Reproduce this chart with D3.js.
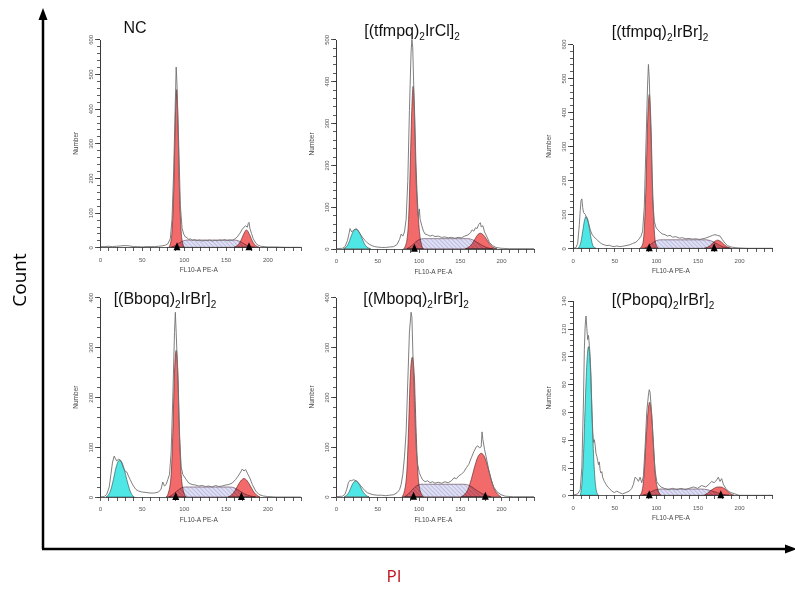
<!DOCTYPE html>
<html>
<head>
	<meta charset="UTF-8">
	<title>Cell cycle histograms</title>
	<script src="https://d3js.org/d3.v7.min.js"></script>
	<style>
		body { margin: 0; background: #fff; }
		svg { display: block; font-family: "Liberation Sans", Arial, sans-serif; }
		.axis path, .axis line { stroke: #333; stroke-width: 0.8; shape-rendering: crispEdges; }
		.axis text { font-size: 6px; fill: #555; font-family: "Liberation Sans", Arial, sans-serif; }
	</style>
</head>
<body>
<svg class="chart" width="795" height="589"></svg>
<script>
	//==================================================================
	// Data
	//==================================================================
	var titles = [
		["NC"],
		["[(tfmpq)", "2", "IrCl]", "2"],
		["[(tfmpq)", "2", "IrBr]", "2"],
		["[(Bbopq)", "2", "IrBr]", "2"],
		["[(Mbopq)", "2", "IrBr]", "2"],
		["[(Pbopq)", "2", "IrBr]", "2"]
	];
	var yMaxes = [600, 500, 600, 400, 400, 140];
	var yMajorSteps = [100, 100, 100, 100, 100, 20];
	var yMinorSteps = [20, 20, 20, 20, 20, 4];
	var xTicks = d3.range(0, 241, 10);
	var xTickLabels = [0, 50, 100, 150, 200];

	// raw histogram traces [FL10-A, count]
	var rawTraces = [
		[[0,2],[5,2],[10,3],[15,2],[20,3],[25,4],[30,5],[35,4],[40,2],[45,2],[50,1],[55,2],[60,2],[65,2],[70,3],[74,4],[78,6],[81,10],[84,25],[86,80],[88,220],[90,420],[91,520],[92,470],[94,300],[96,120],[98,55],[100,38],[102,30],[104,28],[106,22],[108,25],[110,20],[113,22],[116,19],[119,21],[122,18],[125,20],[128,19],[131,21],[134,18],[137,20],[140,19],[143,21],[146,20],[149,22],[152,19],[155,21],[158,20],[161,24],[164,30],[167,40],[170,52],[172,58],[174,62],[176,58],[177,68],[178,72],[179,55],[181,40],[183,25],[186,12],[189,6],[192,3],[196,2],[200,1],[210,1],[220,0],[240,0]],
		[[0,0],[8,1],[11,5],[14,20],[16,38],[17,48],[19,40],[21,44],[23,46],[25,47],[27,42],[29,36],[31,30],[33,25],[35,20],[38,14],[41,10],[44,7],[47,5],[50,4],[55,3],[60,3],[65,4],[70,5],[74,10],[77,22],[79,35],[81,30],[83,40],[85,70],[87,160],[89,330],[91,470],[92,500],[93,480],[95,330],[97,160],[99,90],[100,75],[101,95],[102,70],[104,55],[106,42],[108,35],[111,33],[114,30],[117,32],[120,29],[124,30],[128,27],[132,28],[136,26],[140,27],[144,25],[148,27],[152,26],[156,30],[160,33],[163,38],[165,45],[167,42],[169,50],[171,48],[173,58],[175,62],[176,52],[178,55],[180,40],[183,28],[186,15],[190,7],[194,3],[200,1],[210,0],[240,0]],
		[[0,0],[4,2],[6,15],[8,70],[9,110],[10,140],[11,145],[12,120],[13,105],[15,100],[17,88],[19,75],[21,55],[23,42],[25,35],[27,30],[29,26],[32,18],[35,13],[38,10],[41,8],[44,9],[47,6],[50,5],[53,7],[56,5],[60,6],[64,8],[68,10],[72,14],[76,18],[79,25],[82,35],[84,50],[86,120],[88,300],[90,480],[91,540],[92,500],[94,330],[96,150],[98,80],[100,62],[102,55],[104,50],[106,45],[108,42],[111,40],[114,36],[117,38],[120,33],[124,34],[128,30],[132,31],[136,28],[140,29],[144,27],[148,28],[152,26],[156,28],[160,30],[164,34],[168,38],[171,40],[174,38],[177,36],[180,25],[183,15],[186,8],[190,4],[195,2],[200,1],[210,0],[240,0]],
		[[0,0],[5,1],[8,5],[11,20],[13,45],[15,70],[17,82],[18,78],[20,72],[22,76],[24,74],[26,68],[28,58],[30,52],[32,50],[34,42],[36,35],[38,28],[40,22],[43,15],[46,12],[50,10],[55,9],[60,8],[65,8],[70,10],[73,16],[75,30],[77,22],[79,25],[81,35],[83,45],[85,90],[87,200],[89,330],[90,370],[91,330],[93,240],[95,120],[97,60],[99,45],[101,40],[103,35],[106,28],[110,25],[114,24],[118,22],[122,23],[126,21],[130,22],[134,20],[138,23],[142,21],[146,22],[150,24],[154,25],[158,28],[162,35],[165,42],[168,50],[170,56],[172,52],[174,55],[176,48],[179,38],[182,25],[186,12],[190,5],[195,2],[200,1],[210,0],[240,0]],
		[[0,0],[8,1],[11,5],[13,15],[15,28],[17,33],[19,32],[21,34],[23,33],[25,31],[27,28],[29,24],[31,20],[33,16],[35,12],[38,8],[41,6],[45,4],[50,3],[55,3],[60,2],[65,3],[70,4],[74,8],[77,14],[79,25],[81,45],[83,80],[85,130],[87,230],[89,330],[91,370],[92,360],[93,300],[95,180],[97,100],[99,65],[101,48],[103,40],[105,34],[108,30],[111,32],[114,28],[117,30],[120,27],[124,29],[128,27],[132,30],[136,28],[140,32],[143,38],[146,36],[149,42],[152,45],[155,50],[158,58],[161,65],[164,78],[167,90],[170,100],[172,102],[174,98],[176,100],[177,130],[178,115],[180,95],[182,80],[185,55],[188,35],[191,20],[195,10],[200,4],[205,1],[215,0],[240,0]],
		[[0,0],[6,1],[9,4],[11,20],[13,70],[14,105],[15,122],[16,129],[17,120],[18,112],[19,115],[20,108],[21,100],[22,85],[23,60],[24,45],[25,38],[26,40],[27,36],[28,30],[29,28],[30,25],[31,22],[32,24],[33,18],[34,16],[35,17],[36,13],[38,10],[40,8],[42,6],[44,5],[47,3],[50,2],[53,3],[56,2],[60,1],[64,2],[68,3],[71,5],[73,8],[75,13],[77,12],[79,10],[81,13],[83,9],[85,14],[87,35],[89,60],[91,72],[92,76],[93,74],[95,58],[97,35],[99,18],[101,10],[103,8],[106,6],[110,5],[115,4],[120,5],[125,4],[130,5],[135,4],[140,5],[145,6],[150,5],[155,7],[160,6],[164,8],[167,10],[170,9],[173,11],[175,13],[177,10],[179,12],[181,8],[184,5],[187,3],[190,2],[195,1],[200,0],[240,0]]
	];

	// debris / sub-G1 component (cyan)
	var cyanPeaks = [
		[],
		[[9,0],[12,3],[15,12],[18,28],[21,42],[24,47],[27,43],[30,32],[33,18],[36,7],[39,2],[42,0]],
		[[6,0],[8,5],[10,20],[12,50],[14,80],[16,93],[18,85],[20,60],[22,30],[24,10],[26,2],[28,0]],
		[[7,0],[10,4],[13,15],[16,35],[19,58],[22,72],[24,74],[26,70],[29,55],[32,35],[35,17],[38,5],[41,0]],
		[[10,0],[13,3],[16,10],[19,22],[22,30],[24,32],[26,30],[29,22],[32,12],[35,5],[38,1],[40,0]],
		[[9,0],[11,8],[13,30],[15,65],[17,95],[19,107],[21,95],[23,65],[25,30],[27,10],[29,2],[31,0]]
	];

	// G0/G1 component (red)
	var g1Peaks = [
		[[82,0],[84,10],[86,45],[88,160],[90,370],[91.5,455],[93,370],[95,160],[97,45],[99,10],[101,0]],
		[[82,0],[85,12],[88,70],[90,200],[92,340],[93.5,388],[95,340],[97,200],[100,70],[103,15],[106,0]],
		[[81,0],[84,12],[86,55],[88,180],[90,370],[92,452],[94,370],[96,180],[98,55],[100,12],[103,0]],
		[[79,0],[82,10],[85,45],[87,130],[89,250],[91,294],[93,250],[95,130],[97,45],[100,10],[103,0]],
		[[80,0],[83,12],[86,55],[88,140],[90,240],[92.5,280],[95,240],[97,140],[99,55],[102,12],[106,0]],
		[[81,0],[84,5],[86,17],[88,38],[90,57],[92.5,67],[95,57],[97,38],[99,17],[102,5],[106,0]]
	];

	// G2/M component (red)
	var g2Peaks = [
		[[160,0],[164,5],[168,18],[171,35],[175,50],[179,35],[182,18],[186,5],[190,0]],
		[[157,0],[161,4],[165,12],[169,25],[172,34],[175,37],[178,34],[182,24],[186,12],[190,4],[195,0]],
		[[158,0],[162,3],[166,10],[170,19],[174,24],[178,20],[182,11],[186,4],[190,0]],
		[[153,0],[157,4],[161,12],[165,24],[169,34],[172,37],[175,34],[179,24],[183,12],[187,4],[191,0]],
		[[152,0],[156,5],[160,15],[164,35],[168,60],[172,80],[176,87],[180,80],[184,60],[188,35],[192,15],[196,5],[200,0]],
		[[158,0],[162,1.5],[166,3.5],[170,5],[174,6],[178,6],[182,5],[186,3],[190,1],[194,0]]
	];

	// S phase component (hatched)
	var sPhases = [
		[[85,0],[90,5],[95,13],[100,19],[105,21],[160,21],[165,19],[170,13],[175,6],[180,2],[185,0]],
		[[86,0],[91,6],[96,15],[101,22],[106,24],[160,24],[166,21],[172,14],[178,7],[184,2],[190,0]],
		[[86,0],[91,6],[96,16],[101,23],[106,25],[160,25],[166,22],[172,15],[178,7],[184,2],[190,0]],
		[[82,0],[87,5],[92,12],[97,18],[102,20],[155,20],[161,18],[167,12],[173,6],[180,2],[186,0]],
		[[83,0],[88,6],[93,15],[98,22],[103,25],[155,25],[161,23],[167,17],[173,10],[180,4],[188,0]],
		[[84,0],[89,1],[94,2.5],[100,4],[105,4.5],[155,4.5],[162,4],[168,3],[174,1.8],[180,0.8],[188,0]]
	];

	// peak position markers (triangles)
	var peakMarks = [[92, 178], [95], [92, 170], [90.5, 169], [94, 181], [92, 178]];

	//==================================================================
	// Layout
	//==================================================================
	var panels = [
		{x0: 100,   x1: 300.9, yb: 247.3, yt: 39.3,  tx: 135, ty: 33},
		{x0: 336,   x1: 534,   yb: 248.7, yt: 39.3,  tx: 412, ty: 36},
		{x0: 572.7, x1: 772.4, yb: 248.3, yt: 44,    tx: 660, ty: 37},
		{x0: 100,   x1: 300.9, yb: 497,   yt: 297.3, tx: 165, ty: 304},
		{x0: 336,   x1: 534,   yb: 496.7, yt: 297.3, tx: 416, ty: 304},
		{x0: 572.7, x1: 772.4, yb: 495.3, yt: 300.7, tx: 663, ty: 305}
	];

	var chart = d3.select(".chart");
	var defs = chart.append("defs");

	var hatch = defs.append("pattern")
		.attr("id", "hatch")
		.attr("patternUnits", "userSpaceOnUse")
		.attr("width", 3).attr("height", 3)
		.attr("patternTransform", "rotate(-45)");
	hatch.append("rect").attr("width", 3).attr("height", 3).attr("fill", "#e0e0f4");
	hatch.append("line").attr("x1", 0).attr("y1", 0).attr("x2", 0).attr("y2", 3)
		.attr("stroke", "#8888c4").attr("stroke-width", 0.8);

	//==================================================================
	// Panels
	//==================================================================
	panels.forEach(function(p, i) {
		var x = d3.scaleLinear().domain([0, 240]).range([p.x0, p.x1]);
		var y = d3.scaleLinear().domain([0, yMaxes[i]]).range([p.yb, p.yt]);
		var g = chart.append("g");

		var area = d3.area()
			.x(function(d) { return x(d[0]); })
			.y0(y(0))
			.y1(function(d) { return y(d[1]); })
			.curve(d3.curveMonotoneX);

		var line = d3.line()
			.x(function(d) { return x(d[0]); })
			.y(function(d) { return y(d[1]); });

		// components
		if (cyanPeaks[i].length)
			g.append("path").datum(cyanPeaks[i]).attr("d", area)
				.attr("fill", "#4fe6e6").attr("stroke", "#2a4a4a").attr("stroke-width", 0.6);

		[g1Peaks[i], g2Peaks[i]].forEach(function(pk) {
			g.append("path").datum(pk).attr("d", area)
				.attr("fill", "#f26a6a").attr("stroke", "#4a2020").attr("stroke-width", 0.6);
		});

		g.append("path").datum(sPhases[i]).attr("d", area)
			.attr("fill", "url(#hatch)")
			.style("mix-blend-mode", "multiply")
			.attr("stroke", "#5a3a50").attr("stroke-width", 0.6);

		// raw data
		g.append("path").datum(rawTraces[i]).attr("d", line)
			.attr("fill", "none").attr("stroke", "#707070").attr("stroke-width", 0.9);

		//------------------------------------------------------------------
		// Axes
		var yMajor = d3.range(0, yMaxes[i] + 0.1, yMajorSteps[i]);
		var yMinor = d3.range(0, yMaxes[i] + 0.1, yMinorSteps[i]);

		g.append("g").attr("class", "axis")
			.attr("transform", "translate(" + p.x0 + ",0)")
			.call(d3.axisLeft(y).tickValues(yMinor).tickSize(3).tickSizeOuter(0).tickFormat(""));

		var ya = g.append("g").attr("class", "axis")
			.attr("transform", "translate(" + p.x0 + ",0)")
			.call(d3.axisLeft(y).tickValues(yMajor).tickSize(5).tickSizeOuter(0));
		ya.selectAll("text")
			.attr("x", 0).attr("dy", 0)
			.attr("text-anchor", "middle")
			.attr("transform", "translate(-7,0) rotate(-90)");

		var xa = g.append("g").attr("class", "axis")
			.attr("transform", "translate(0," + p.yb + ")")
			.call(d3.axisBottom(x).tickValues(xTicks).tickSize(4).tickSizeOuter(0)
				.tickFormat(function(d) { return xTickLabels.indexOf(d) >= 0 ? d : ""; }));
		xa.selectAll("text").attr("y", 10);

		g.append("text")
			.attr("transform", "translate(" + (p.x0 - 22) + "," + ((p.yb + p.yt) / 2) + ") rotate(-90)")
			.attr("text-anchor", "middle")
			.attr("font-size", 6.5).attr("fill", "#444")
			.text("Number");

		g.append("text")
			.attr("x", x(118)).attr("y", p.yb + 25)
			.attr("text-anchor", "middle")
			.attr("font-size", 6.5).attr("fill", "#444")
			.text("FL10-A PE-A");

		// peak markers
		g.selectAll(".mark")
			.data(peakMarks[i])
			.enter().append("path")
			.attr("d", function(d) {
				var cx = x(d);
				return "M" + (cx - 3.5) + "," + (p.yb + 3) + "L" + (cx + 3.5) + "," + (p.yb + 3) + "L" + cx + "," + (p.yb - 5) + "Z";
			})
			.attr("fill", "#000");

		// title
		var t = g.append("text")
			.attr("x", p.tx).attr("y", p.ty)
			.attr("text-anchor", "middle")
			.attr("font-size", 16).attr("fill", "#111");
		titles[i].forEach(function(s, k) {
			var ts = t.append("tspan").text(s);
			if (k % 2 === 1) ts.attr("font-size", 10).attr("dy", 4);
			else if (k > 0) ts.attr("dy", -4);
		});
	});

	//==================================================================
	// Outer axes
	//==================================================================
	chart.append("line")
		.attr("x1", 43).attr("y1", 549).attr("x2", 43).attr("y2", 18)
		.attr("stroke", "#000").attr("stroke-width", 2.5);
	chart.append("path").attr("d", "M43,8L38.5,20L47.5,20Z").attr("fill", "#000");

	chart.append("line")
		.attr("x1", 42).attr("y1", 549).attr("x2", 786).attr("y2", 549)
		.attr("stroke", "#000").attr("stroke-width", 2.5);
	chart.append("path").attr("d", "M797,549L785,544.5L785,553.5Z").attr("fill", "#000");

	chart.append("text")
		.attr("transform", "translate(26,280) rotate(-90)")
		.attr("text-anchor", "middle")
		.attr("font-family", "'Open Sans', sans-serif")
		.attr("font-size", 19).attr("fill", "#000")
		.text("Count");

	chart.append("text")
		.attr("x", 394).attr("y", 582)
		.attr("text-anchor", "middle")
		.attr("font-family", "'Open Sans', sans-serif")
		.attr("font-size", 17).attr("fill", "#c0141c")
		.text("PI");
</script>
</body>
</html>
